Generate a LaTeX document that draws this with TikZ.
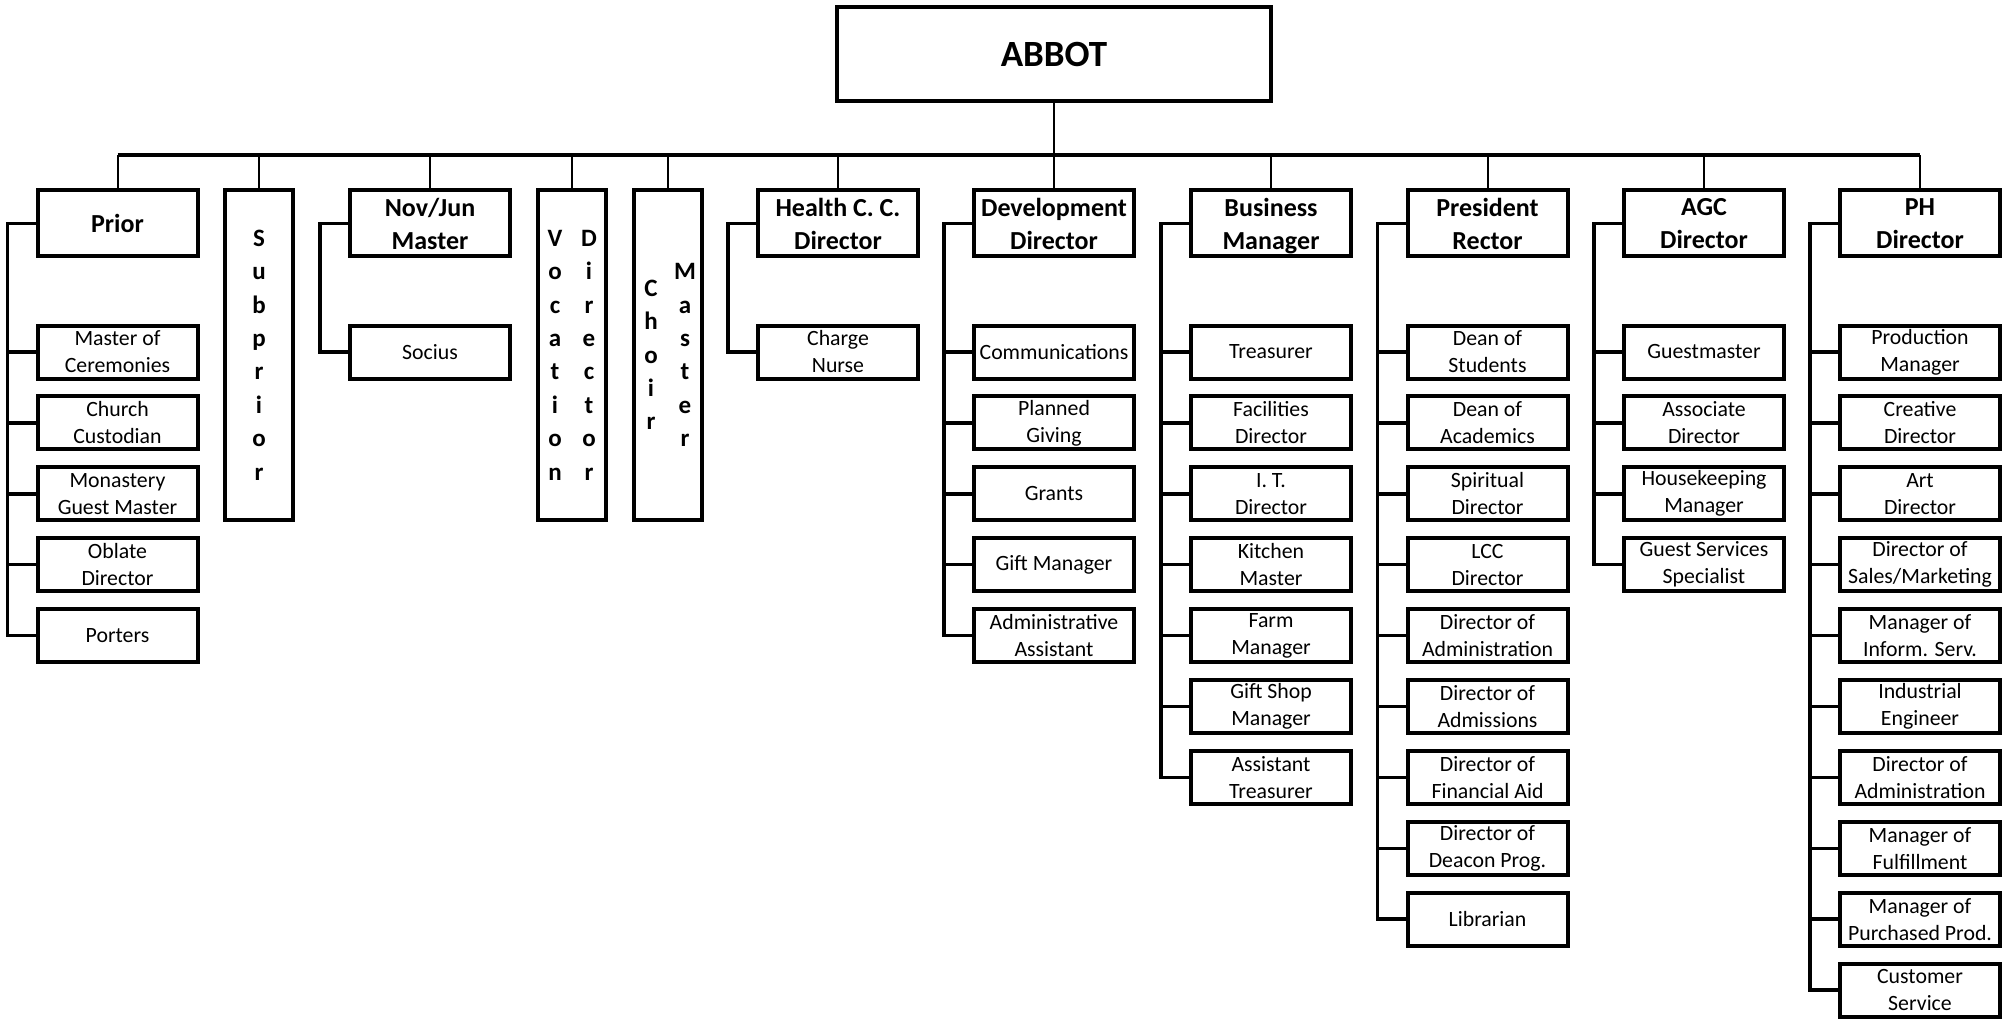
\documentclass[tikz,border=0pt]{standalone}
\usepackage{fontspec}
\setmainfont{Carlito}
\newcommand\vst[1]{\parbox[c]{34pt}{\centering #1}}
\begin{document}
\begin{tikzpicture}[x=1pt,y=-1pt,
  box/.style={draw,line width=4pt,fill=white,align=center,inner sep=0pt},
  head/.style={box,minimum width=160pt,minimum height=66pt,font=\fontsize{26}{33}\selectfont\bfseries},
  kid/.style={box,minimum width=160pt,minimum height=53pt,font=\fontsize{21.8}{27}\selectfont},
  vbox/.style={box,minimum width=68pt,minimum height=330pt,font=\fontsize{25}{33.4}\selectfont\bfseries},
  bus/.style={line width=4pt},
  drop/.style={line width=2pt},
  br/.style={line width=3.5pt}]
\useasboundingbox (0,0) rectangle (2007,1024);
\coordinate (bus) at (0,155);

% top
\node[box,minimum width=434pt,minimum height=94pt,font=\fontsize{37}{44}\selectfont\bfseries] (abbot) at (1054,54) {ABBOT};

% level 2
\node[head] (prior) at (117.5,223.5) {Prior};
\node[vbox] (subprior) at (259,355) {\vst{S\\u\\b\\p\\r\\i\\o\\r}};
\node[head] (novjun) at (430,223.5) {Nov/Jun\\Master};
\node[vbox] (vocation) at (572,355) {\vst{V\\o\\c\\a\\t\\i\\o\\n}\vst{D\\i\\r\\e\\c\\t\\o\\r}};
\node[vbox] (choir) at (668,355) {\vst{C\\h\\o\\i\\r}\vst{M\\a\\s\\t\\e\\r}};
\node[head] (health) at (838,223.5) {Health C. C.\\Director};
\node[head] (dev) at (1054,223.5) {Development\\Director};
\node[head] (busm) at (1271,223.5) {Business\\Mana\smash{g}er};
\node[head] (pres) at (1487.5,223.5) {President\\Rector};
\node[head] (agc) at (1704,223.5) {AGC\\Director};
\node[head] (ph) at (1920,223.5) {PH\\Director};

% bus
\draw[drop] (abbot.south) -- (abbot.south |- bus);
\draw[bus] (prior.north |- bus) -- (ph.north |- bus);
\foreach \n in {prior,subprior,novjun,vocation,choir,health,dev,busm,pres,agc,ph}
  \draw[drop] (\n.north) -- (\n.north |- bus);

% children
\foreach \p/\x/\list in {
  prior/117.5/{{Master of\\Ceremonies},{Church\\Custodian},{Monastery\\Guest Master},{Oblate\\Director},{Porters}},
  novjun/430/{{Socius}},
  health/838/{{Charge\\Nurse}},
  dev/1054/{{Communications},{Planned\\Giving},{Grants},{Gift Manager},{Administrative\\Assistant}},
  busm/1271/{{Treasurer},{Facilities\\Director},{I. T.\\Director},{Kitchen\\Master},{Farm\\Manager},{Gift Shop\\Manager},{Assistant\\Treasurer}},
  pres/1487.5/{{Dean of\\Students},{Dean of\\Academics},{Spiritual\\Director},{LCC\\Director},{Director of\\Administration},{Director of\\Admissions},{Director of\\Financial Aid},{Director of\\Deacon Prog.},{Librarian}},
  agc/1704/{{Guestmaster},{Associate\\Director},{Housekeeping\\Manager},{Guest Services\\Specialist}},
  ph/1920/{{Production\\Manager},{Creative\\Director},{Art\\Director},{Director of\\Sales/Marketing},{Manager of\\Inform. Serv.},{Industrial\\Engineer},{Director of\\Administration},{Manager of\\Fulfillment},{Manager of\\Purchased Prod.},{Customer\\Service}}}
{
  \foreach \t [count=\i] in \list {
    \node[kid] (\p\i) at (\x,{352+(\i-1)*70.9}) {\t};
    \draw[br] (\p.west) -- ++(-28,0) |- (\p\i.west);
  }
}
\end{tikzpicture}
\end{document}
